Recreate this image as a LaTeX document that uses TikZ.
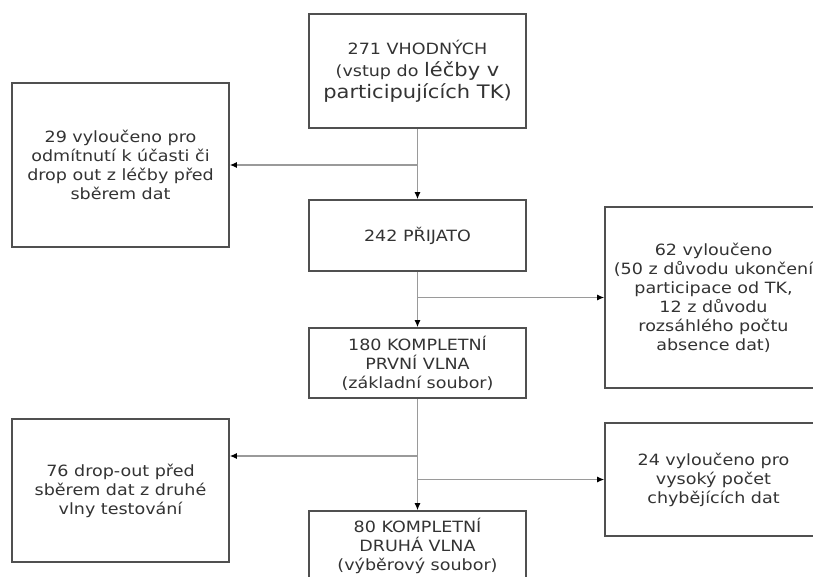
\documentclass[tikz,border=0pt]{standalone}
\usepackage{fontspec}
\setmainfont{DejaVu Sans}[FakeStretch=1.13]
\usetikzlibrary{arrows.meta}
\definecolor{boxline}{HTML}{505050}
\definecolor{linkline}{HTML}{9A9A9A}
\definecolor{txt}{HTML}{333333}
\begin{document}
\begin{tikzpicture}[x=1pt, y=-1pt,
  box/.style={draw=boxline, line width=1.6pt, fill=white, text=txt, align=center,
    minimum width=217pt, inner sep=2pt, font=\fontsize{15.5}{19}\selectfont},
  link/.style={draw=linkline, line width=1.2pt, -{Latex[black,length=7pt,width=6pt]}}]
  \clip (0,0) rectangle (813,576);
  \fill[white] (0,0) rectangle (813,576);

  % Define boxes
  \node[box, minimum height=114pt, font=\fontsize{15.5}{22}\selectfont] (suitable) at (417.5,71)
    {271 VHODNÝCH\\(vstup do {\fontsize{18.6}{22}\selectfont léčby v}\\{\fontsize{18.6}{22}\selectfont participujících TK)}};
  \node[box, minimum height=164pt] (refused) at (120.5,165)
    {29 vyloučeno pro\\odmítnutí k účasti či\\drop out z léčby před\\sběrem dat};
  \node[box, minimum height=71pt] (accepted) at (417.5,235.5) {242 PŘIJATO};
  \node[box, minimum height=181pt] (excluded) at (713.5,297.5)
    {62 vyloučeno\\(50 z důvodu ukončení\\participace od TK,\\12 z důvodu\\rozsáhlého počtu\\absence dat)};
  \node[box, minimum height=70pt] (wave1) at (417.5,363)
    {180 KOMPLETNÍ\\PRVNÍ VLNA\\(základní soubor)};
  \node[box, minimum height=143pt] (dropout) at (120.5,490.5)
    {76 drop-out před\\sběrem dat z druhé\\vlny testování};
  \node[box, minimum height=113pt] (missing) at (713.5,479.5)
    {24 vyloučeno pro\\vysoký počet\\chybějících dat};
  \node[box, minimum height=70pt] (wave2) at (417.5,546)
    {80 KOMPLETNÍ\\DRUHÁ VLNA\\(výběrový soubor)};

  % Branch points
  \coordinate (b1) at (suitable.south |- refused.east);
  \coordinate (b2) at (accepted.south |- excluded.west);
  \coordinate (b3) at (417.5,456);
  \coordinate (b4) at (wave1.south |- missing.west);

  % Draw connectors
  \draw[link] (suitable) -- (accepted);
  \draw[link] (b1) -- (refused.east);
  \draw[link] (accepted) -- (wave1);
  \draw[link] (b2) -- (excluded.west);
  \draw[link] (wave1) -- (wave2);
  \draw[link] (b3) -- (b3 -| dropout.east);
  \draw[link] (b4) -- (missing.west);
\end{tikzpicture}
\end{document}
